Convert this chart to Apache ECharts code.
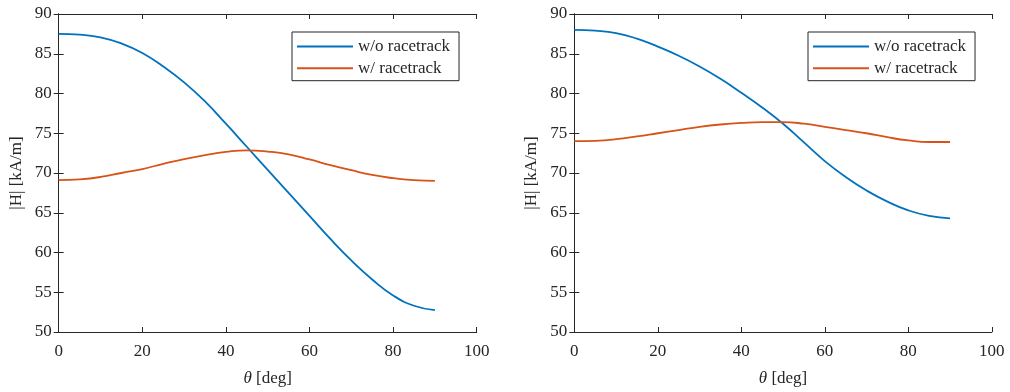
<!DOCTYPE html>
<html>
<head>
<meta charset="utf-8">
<script src="https://cdn.jsdelivr.net/npm/echarts@6/dist/echarts.min.js"></script>
<style>
  html, body { margin: 0; padding: 0; background: #fff; }
  #main { width: 1010px; height: 392px; }
</style>
</head>
<body>
<div id="main"></div>
<script>
// angle samples (deg)
var theta = [0, 5, 10, 15, 20, 25, 30, 35, 40, 45, 50, 55, 60, 65, 70, 75, 80, 85, 90];
// left panel
var leftWithout = [87.5, 87.4, 87.05, 86.3, 85.1, 83.4, 81.4, 79.0, 76.2, 73.3, 70.4, 67.5, 64.6, 61.7, 59.0, 56.6, 54.6, 53.3, 52.75];
var leftWith = [69.1, 69.2, 69.5, 70.0, 70.5, 71.15, 71.75, 72.25, 72.65, 72.85, 72.7, 72.35, 71.7, 71.0, 70.35, 69.75, 69.35, 69.1, 69.0];
// right panel
var rightWithout = [88.0, 87.9, 87.6, 86.9, 85.9, 84.75, 83.4, 81.85, 80.1, 78.25, 76.2, 73.85, 71.5, 69.5, 67.8, 66.4, 65.3, 64.6, 64.3];
var rightWith = [74.0, 74.05, 74.25, 74.6, 75.0, 75.4, 75.8, 76.1, 76.3, 76.4, 76.4, 76.2, 75.8, 75.4, 75.0, 74.5, 74.1, 73.9, 73.9];
var seriesNames = ['w/o racetrack', 'w/ racetrack'];

var chart = echarts.init(document.getElementById('main'));

var ink = '#262626';
var font = 'Liberation Serif';
var blue = '#0072BD';
var orange = '#D95319';

function pairs(ys) {
  return theta.map(function (t, i) { return [t, ys[i]]; });
}

function xAx(grid, top) {
  return {
    type: 'value', gridIndex: grid, min: 0, max: 100, interval: 20,
    position: top ? 'top' : 'bottom',
    name: top ? '' : '{i|θ} [deg]',
    nameLocation: 'middle', nameGap: 38,
    nameTextStyle: {
      fontFamily: font, fontSize: 17, color: ink,
      rich: { i: { fontFamily: font, fontSize: 17, fontStyle: 'italic', color: ink } }
    },
    axisLine: { show: true, lineStyle: { color: ink, width: 1 } },
    axisTick: { show: true, inside: true, length: 5, lineStyle: { color: ink } },
    axisLabel: { show: !top, margin: 11, fontFamily: font, fontSize: 17, color: ink },
    splitLine: { show: false }
  };
}

function yAx(grid, right) {
  return {
    type: 'value', gridIndex: grid, min: 50, max: 90, interval: 5,
    position: right ? 'right' : 'left',
    name: right ? '' : '|H| [kA/m]',
    nameLocation: 'middle', nameGap: 34, nameRotate: 90,
    nameTextStyle: { fontFamily: font, fontSize: 17, color: ink },
    axisLine: { show: true, lineStyle: { color: ink, width: 1 } },
    axisTick: { show: true, inside: true, length: 5, lineStyle: { color: ink } },
    axisLabel: { show: !right, margin: 7, fontFamily: font, fontSize: 17, color: ink },
    splitLine: { show: false }
  };
}

function line(name, color, grid, ys) {
  return {
    name: name, type: 'line', xAxisIndex: grid * 2, yAxisIndex: grid * 2,
    data: pairs(ys), smooth: 0.5, symbol: 'none',
    lineStyle: { color: color, width: 1.8 },
    itemStyle: { color: color },
    animation: false
  };
}

function legend(left) {
  return {
    data: seriesNames, orient: 'vertical', left: left, top: 32,
    icon: 'rect', itemWidth: 56, itemHeight: 2, itemGap: 4.7,
    padding: [6, 9, 4, 5],
    borderColor: ink, borderWidth: 1, backgroundColor: '#fff',
    textStyle: { fontFamily: font, fontSize: 17, color: ink },
    selectedMode: false
  };
}

option = {
  backgroundColor: '#fff',
  grid: [
    { left: 58.7, top: 14, width: 418, height: 320 },
    { left: 574.3, top: 14, width: 417.5, height: 320 }
  ],
  xAxis: [xAx(0, false), xAx(0, true), xAx(1, false), xAx(1, true)],
  yAxis: [yAx(0, false), yAx(0, true), yAx(1, false), yAx(1, true)],
  legend: [legend(292), legend(808)],
  series: [
    line(seriesNames[0], blue, 0, leftWithout),
    line(seriesNames[1], orange, 0, leftWith),
    line(seriesNames[0], blue, 1, rightWithout),
    line(seriesNames[1], orange, 1, rightWith)
  ]
};

chart.setOption(option);
</script>
</body>
</html>
